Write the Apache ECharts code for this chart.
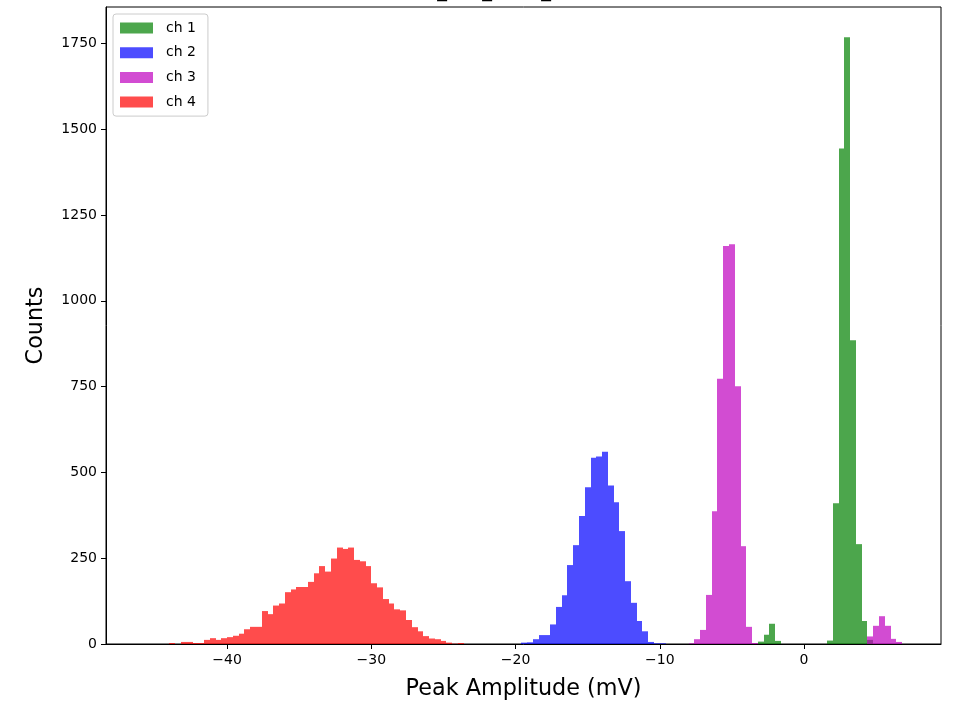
<!DOCTYPE html>
<html><head><meta charset="utf-8">
<script src="https://cdn.jsdelivr.net/npm/echarts@6/dist/echarts.min.js"></script>
<style>html,body{margin:0;padding:0;background:#fff}#c{width:953px;height:703px}</style>
</head><body><div id="c"></div>
<script>
// ---- data ----
const binWidth = 0.4;
const channelNames = ['ch 1', 'ch 2', 'ch 3', 'ch 4'];
const ch1Start = -3.2;
const ch1Counts = [7, 27, 59, 9, 0, 0, 0, 0, 0, 0, 0, 0, 10, 410, 1444, 1768, 885, 291, 67, 12];
const ch2Start = -19.6;
const ch2Counts = [4, 5, 14, 26, 26, 57, 108, 142, 230, 288, 373, 457, 543, 546, 560, 462, 413, 329, 183, 120, 67, 37, 6, 2, 2];
const ch3Start = -8.0;
const ch3Counts = [2, 14, 41, 143, 387, 773, 1160, 1165, 751, 285, 50, 3,
  0, 0, 0, 0, 0, 0, 0, 0, 0, 0, 0, 0, 0, 0, 0, 0, 0, 0, 0,
  22, 53, 81, 53, 15, 6];
const ch4Start = -44.0;
const ch4Counts = [3, 0, 6, 6, 3, 3, 12, 17, 12, 17, 20, 24, 30, 43, 50, 50, 96, 87, 112, 118,
  151, 159, 166, 166, 181, 206, 227, 211, 249, 281, 277, 281, 245, 241, 227, 177, 165, 131, 118, 101,
  98, 70, 49, 37, 23, 16, 14, 9, 4, 1, 3];
const xTicks = [-40, -30, -20, -10, 0];
const yTicks = [0, 250, 500, 750, 1000, 1250, 1500, 1750];
const titleText = 'run_ch1_2018_threshold';

// ---- build ----
function toBins(start, counts) {
  return counts.map((c, i) => [start + i * binWidth, start + (i + 1) * binWidth, c]);
}
const starts = [ch1Start, ch2Start, ch3Start, ch4Start];
const counts = [ch1Counts, ch2Counts, ch3Counts, ch4Counts];
const colors = ['rgba(0,128,0,0.7)', 'rgba(0,0,255,0.7)', 'rgba(191,0,191,0.7)', 'rgba(255,0,0,0.7)'];

function renderItem(params, api) {
  const y = api.value(2);
  if (!y) return null;
  const p0 = api.coord([api.value(0), y]);
  const p1 = api.coord([api.value(1), 0]);
  const x0 = Math.round(p0[0]), x1 = Math.round(p1[0]);
  return {
    type: 'rect',
    shape: { x: x0, y: p0[1], width: x1 - x0, height: p1[1] - p0[1] },
    style: { fill: api.visual('color') }
  };
}

const FONT = '"DejaVu Sans", sans-serif';
const chart = echarts.init(document.getElementById('c'), null, { renderer: 'canvas' });
chart.setOption({
  animation: false,
  backgroundColor: '#fff',
  graphic: [{
    type: 'text', x: 523.5, y: -8,
    style: { text: titleText, font: '19.4px "DejaVu Sans"', fill: '#000', align: 'center', verticalAlign: 'middle' }
  }],
  grid: { left: 106, top: 7, right: 12, bottom: 59, outerBoundsMode: 'none', containLabel: false,
    show: true, borderColor: '#000', borderWidth: 1, backgroundColor: 'transparent' },
  legend: {
    data: channelNames, orient: 'vertical', left: 113, top: 14,
    icon: 'rect', itemWidth: 33, itemHeight: 11, itemGap: 8.7,
    padding: [6, 12, 6, 7],
    borderColor: '#cccccc', borderWidth: 1, borderRadius: 3, backgroundColor: 'rgba(255,255,255,0.8)',
    textStyle: { fontFamily: FONT, fontSize: 14, color: '#000', lineHeight: 16, padding: [0, 0, 0, 8] }
  },
  xAxis: {
    type: 'value', min: -48.4, max: 9.5,
    name: 'Peak Amplitude (mV)', nameLocation: 'middle', nameGap: 34,
    nameTextStyle: { fontFamily: FONT, fontSize: 22.3, color: '#000' },
    splitLine: { show: false },
    axisLine: { show: true, onZero: false, lineStyle: { color: '#000', width: 1 } },
    axisTick: { show: true, length: 5, inside: false, customValues: xTicks, lineStyle: { color: '#000' } },
    axisLabel: { customValues: xTicks, margin: 9, fontFamily: FONT, fontSize: 14, color: '#000',
      formatter: v => String(v).replace('-', '\u2212') }
  },
  yAxis: {
    type: 'value', min: 0, max: 1856,
    name: 'Counts', nameLocation: 'middle', nameGap: 59, nameRotate: 90,
    nameTextStyle: { fontFamily: FONT, fontSize: 22.3, color: '#000' },
    splitLine: { show: false },
    axisLine: { show: true, onZero: false, lineStyle: { color: '#000', width: 1 } },
    axisTick: { show: true, length: 5, inside: false, customValues: yTicks, lineStyle: { color: '#000' } },
    axisLabel: { customValues: yTicks, margin: 9, fontFamily: FONT, fontSize: 14, color: '#000',
      formatter: v => String(v) }
  },
  series: channelNames.map((n, i) => ({
    name: n, type: 'custom', renderItem: renderItem,
    itemStyle: { color: colors[i] },
    encode: { x: [0, 1], y: 2 },
    data: toBins(starts[i], counts[i])
  }))
});
</script></body></html>
